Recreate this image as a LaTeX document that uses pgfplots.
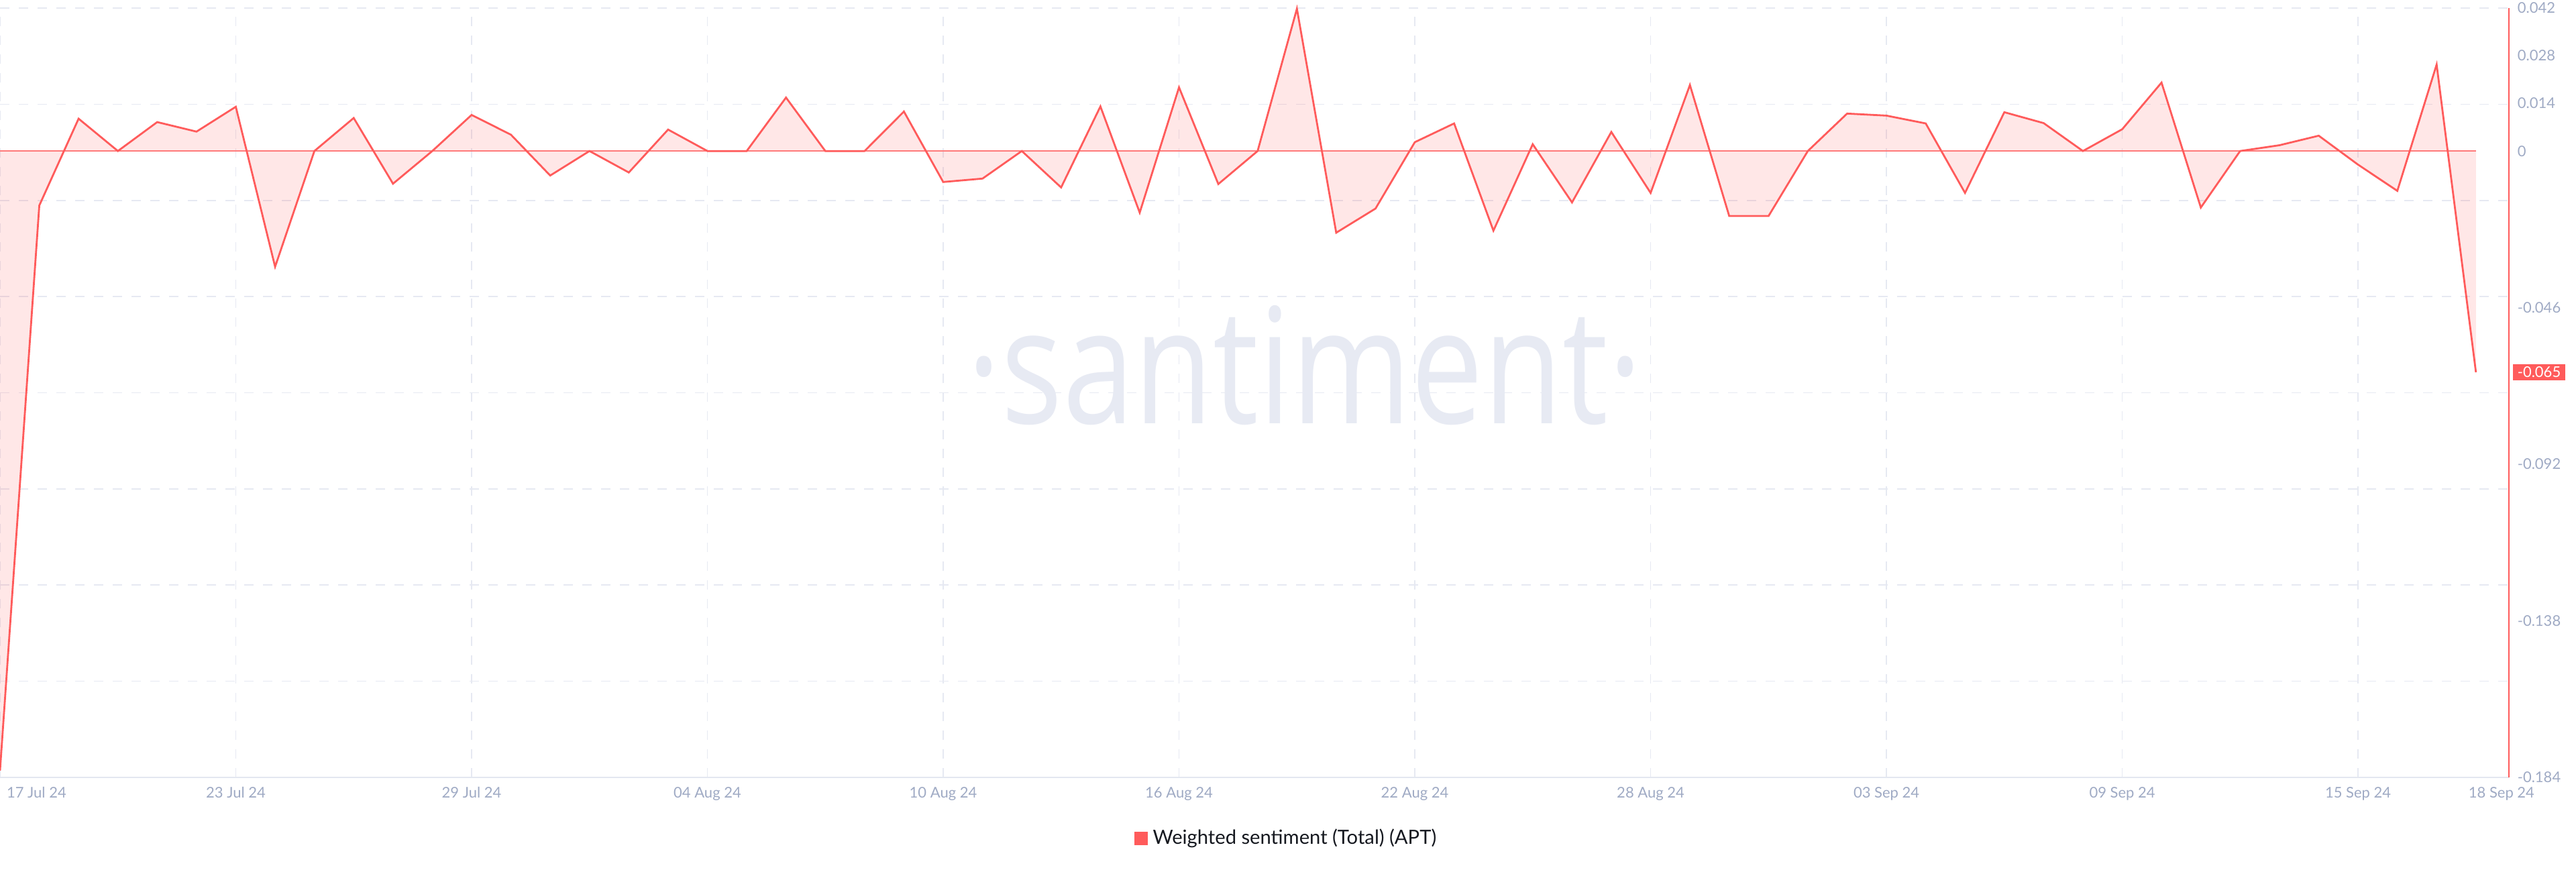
\documentclass[border=0pt]{standalone}
\usepackage{pgfplots}
\pgfplotsset{compat=1.18}
\usepgfplotslibrary{fillbetween}
\usepackage{pgfplotstable}
\usepackage{fontspec}
\setmainfont{Lato}
\newfontfamily\wmfont{Open Sans}

\definecolor{lineRed}{HTML}{FF5B5B}
\definecolor{zeroRed}{HTML}{FF7A7A}
\definecolor{gridCol}{HTML}{E6E9F2}
\definecolor{tickCol}{HTML}{9FAAC4}
\definecolor{axisCol}{HTML}{E3E7F0}
\definecolor{legCol}{HTML}{15181F}
\definecolor{wmCol}{HTML}{E7EAF3}

% day 0 = 17 Jul 24
\pgfplotstableread{
day val
0 -0.182
1 -0.0160
2 0.0095
3 0
4 0.0085
5 0.0057
6 0.0130
7 -0.0340
8 0
9 0.0097
10 -0.0096
11 0
12 0.0106
13 0.0048
14 -0.0072
15 0
16 -0.0063
17 0.0063
18 0
19 0
20 0.0157
21 0
22 0
23 0.0116
24 -0.0091
25 -0.0081
26 0
27 -0.0107
28 0.0131
29 -0.0181
30 0.0187
31 -0.0097
32 0
33 0.0418
34 -0.0240
35 -0.0169
36 0.0026
37 0.0081
38 -0.0234
39 0.0020
40 -0.0151
41 0.0056
42 -0.0123
43 0.0194
44 -0.0191
45 -0.0191
46 0
47 0.0110
48 0.0104
49 0.0081
50 -0.0123
51 0.0114
52 0.0082
53 0
54 0.0064
55 0.0201
56 -0.0166
57 0
58 0.0017
59 0.0045
60 -0.0040
61 -0.0117
62 0.0254
63 -0.0650
}\sentiment

\begin{document}
\begin{tikzpicture}
\begin{axis}[
  scale only axis, width=935bp, height=286.75bp,
  xmin=0, xmax=63.84, ymin=-0.184, ymax=0.042,
  clip=false,
  axis line style={draw=none},
  major tick length=0pt,
  tick style={draw=none},
  xtick={0,6,...,60},
  xticklabels={\makebox[0pt][l]{\hspace{2.5bp}17 Jul 24},23 Jul 24,29 Jul 24,04 Aug 24,10 Aug 24,16 Aug 24,22 Aug 24,28 Aug 24,03 Sep 24,09 Sep 24,15 Sep 24},
  extra x ticks={63.65},
  extra x tick labels={18 Sep 24},
  extra x tick style={xmajorgrids=false},
  xmajorgrids,
  xticklabel style={font=\fontsize{5.5bp}{6bp}\selectfont, text=tickCol, anchor=mid, yshift=-5.2bp},
  ytick={0.042,0.01375,-0.0145,-0.04275,-0.071,-0.09925,-0.1275,-0.15575},
  yticklabel=\empty,
  ymajorgrids,
  extra y ticks={-0.184,-0.138,-0.092,-0.046,0,0.014,0.028,0.042},
  extra y tick labels={-0.184,-0.138,-0.092,-0.046,0,0.014,0.028,0.042},
  extra y tick style={ymajorgrids=false},
  yticklabel pos=right,
  yticklabel style={font=\fontsize{5.5bp}{6bp}\selectfont, text=tickCol, anchor=west, inner sep=0pt, xshift=3bp},
  major grid style={gridCol, line width=0.4bp, dash pattern=on 3.5bp off 3.5bp},
  legend style={draw=none, fill=none, at={(0.5134,-0.0793)}, anchor=center,
    font=\fontsize{7.3bp}{8bp}\selectfont, text=legCol},
]
\coordinate (pSW) at (rel axis cs:0,0);
\coordinate (pNE) at (rel axis cs:1,1);

\node[font=\wmfont\fontsize{60bp}{60bp}\selectfont, text=wmCol, xscale=0.8, anchor=base]
  at (rel axis cs:0.52,0.4595) {·santiment·};

\addplot[zeroRed, line width=0.4bp, name path=zero, forget plot] coordinates {(0,0) (63,0)};
\addplot[lineRed, line width=0.7bp, name path=curve, forget plot] table[x=day, y=val] {\sentiment};
\addplot[fill=lineRed, fill opacity=0.15, draw=none, forget plot] fill between[of=curve and zero];

\draw[axisCol, line width=0.6bp] (rel axis cs:0,0) -- (rel axis cs:1,0);
\draw[lineRed, line width=0.5bp] (rel axis cs:1,0) -- (rel axis cs:1,1);

\node[anchor=west, xshift=1.25bp, fill=lineRed, text=white, inner xsep=1.75bp, inner ysep=0pt,
  minimum height=6bp, font=\fontsize{5.5bp}{6bp}\selectfont] at (axis cs:63.84,-0.065) {-0.065};

\addlegendimage{legend image code/.code={\fill[lineRed] (0bp,-2.25bp) rectangle (4.5bp,2.25bp);}}
\addlegendentry{Weighted sentiment (Total) (APT)}
\end{axis}
\pgfresetboundingbox
\useasboundingbox ([yshift=-35.25bp]pSW) rectangle ([xshift=25bp,yshift=3bp]pNE);
\end{tikzpicture}
\end{document}
